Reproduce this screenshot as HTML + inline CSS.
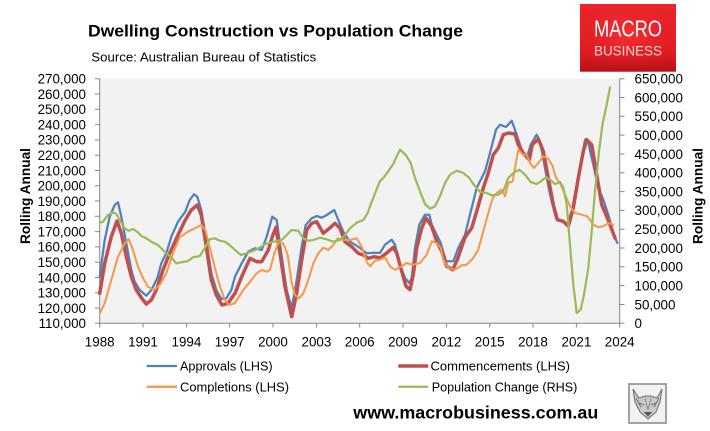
<!DOCTYPE html>
<html>
<head>
<meta charset="utf-8">
<style>
  html,body{margin:0;padding:0;background:#fff;}
  svg{display:block;}
  text{font-family:"Liberation Sans","DejaVu Sans",sans-serif;}
</style>
</head>
<body>
<svg width="710" height="431" viewBox="0 0 710 431" xmlns="http://www.w3.org/2000/svg">
  <rect x="0" y="0" width="710" height="431" fill="#ffffff"/>

  <!-- Title -->
  <text x="88" y="36.7" font-size="17" font-weight="bold" fill="#000" textLength="375" lengthAdjust="spacingAndGlyphs">Dwelling Construction vs Population Change</text>
  <text x="91.3" y="61.7" font-size="12.5" fill="#000" textLength="225" lengthAdjust="spacingAndGlyphs">Source: Australian Bureau of Statistics</text>

  <!-- Logo -->
  <defs>
    <linearGradient id="lg" x1="0" y1="0" x2="0" y2="1">
      <stop offset="0" stop-color="#f0262c"/>
      <stop offset="0.7" stop-color="#e41d24"/>
      <stop offset="1" stop-color="#b80f16"/>
    </linearGradient>
    <radialGradient id="rg" cx="0.5" cy="0.45" r="0.7">
      <stop offset="0" stop-color="#ff3a3e" stop-opacity="0.6"/>
      <stop offset="1" stop-color="#c01018" stop-opacity="0"/>
    </radialGradient>
  </defs>
  <rect x="580" y="4" width="96" height="67.7" fill="url(#lg)"/>
  <rect x="580" y="4" width="96" height="67.7" fill="url(#rg)"/>
  <text x="594" y="36.7" font-size="23" fill="#ffffff" textLength="68" lengthAdjust="spacingAndGlyphs">MACRO</text>
  <text x="594" y="55.7" font-size="14" fill="#f9d4d4" textLength="68" lengthAdjust="spacingAndGlyphs">BUSINESS</text>

  <!-- Plot area -->
  <rect x="100" y="78.7" width="520" height="244.6" fill="#f2f2f2"/>

  <!-- Axes -->
  <g stroke="#868686" stroke-width="1" fill="none">
    <line x1="99.7" y1="78.7" x2="99.7" y2="323.3"/>
    <line x1="619.7" y1="78.7" x2="619.7" y2="323.3"/>
    <line x1="99.7" y1="323.3" x2="619.7" y2="323.3"/>
    <!-- left ticks -->
    <path d="M95,78.7H99.7 M95,94H99.7 M95,109.3H99.7 M95,124.6H99.7 M95,139.9H99.7 M95,155.2H99.7 M95,170.5H99.7 M95,185.8H99.7 M95,201H99.7 M95,216.3H99.7 M95,231.6H99.7 M95,246.9H99.7 M95,262.2H99.7 M95,277.5H99.7 M95,292.8H99.7 M95,308.1H99.7 M95,323.3H99.7"/>
    <!-- right ticks -->
    <path d="M619.7,78.7H624.5 M619.7,97.5H624.5 M619.7,116.3H624.5 M619.7,135.1H624.5 M619.7,154H624.5 M619.7,172.8H624.5 M619.7,191.6H624.5 M619.7,210.4H624.5 M619.7,229.2H624.5 M619.7,248H624.5 M619.7,266.8H624.5 M619.7,285.6H624.5 M619.7,304.5H624.5 M619.7,323.3H624.5"/>
    <!-- x ticks -->
    <path d="M99.7,323.3V327.5 M143,323.3V327.5 M186.4,323.3V327.5 M229.7,323.3V327.5 M273,323.3V327.5 M316.4,323.3V327.5 M359.7,323.3V327.5 M403,323.3V327.5 M446.4,323.3V327.5 M489.7,323.3V327.5 M533,323.3V327.5 M576.4,323.3V327.5 M619.7,323.3V327.5"/>
  </g>

  <!-- Left labels -->
  <g font-size="13.4" fill="#000" text-anchor="end">
    <text x="86" y="83.5">270,000</text>
    <text x="86" y="98.8">260,000</text>
    <text x="86" y="114.1">250,000</text>
    <text x="86" y="129.4">240,000</text>
    <text x="86" y="144.7">230,000</text>
    <text x="86" y="160">220,000</text>
    <text x="86" y="175.3">210,000</text>
    <text x="86" y="190.6">200,000</text>
    <text x="86" y="205.8">190,000</text>
    <text x="86" y="221.1">180,000</text>
    <text x="86" y="236.4">170,000</text>
    <text x="86" y="251.7">160,000</text>
    <text x="86" y="267">150,000</text>
    <text x="86" y="282.3">140,000</text>
    <text x="86" y="297.6">130,000</text>
    <text x="86" y="312.9">120,000</text>
    <text x="86" y="328.1">110,000</text>
  </g>

  <!-- Right labels -->
  <g font-size="13.4" fill="#000">
    <text x="634.5" y="83.5">650,000</text>
    <text x="634.5" y="102.3">600,000</text>
    <text x="634.5" y="121.1">550,000</text>
    <text x="634.5" y="139.9">500,000</text>
    <text x="634.5" y="158.8">450,000</text>
    <text x="634.5" y="177.6">400,000</text>
    <text x="634.5" y="196.4">350,000</text>
    <text x="634.5" y="215.2">300,000</text>
    <text x="634.5" y="234">250,000</text>
    <text x="634.5" y="252.8">200,000</text>
    <text x="634.5" y="271.6">150,000</text>
    <text x="634.5" y="290.4">100,000</text>
    <text x="634.5" y="309.3">50,000</text>
    <text x="634.5" y="328.1">0</text>
  </g>

  <!-- X labels -->
  <g font-size="13.4" fill="#000" text-anchor="middle">
    <text x="99.7" y="346.5">1988</text>
    <text x="143" y="346.5">1991</text>
    <text x="186.4" y="346.5">1994</text>
    <text x="229.7" y="346.5">1997</text>
    <text x="273" y="346.5">2000</text>
    <text x="316.4" y="346.5">2003</text>
    <text x="359.7" y="346.5">2006</text>
    <text x="403" y="346.5">2009</text>
    <text x="446.4" y="346.5">2012</text>
    <text x="489.7" y="346.5">2015</text>
    <text x="533" y="346.5">2018</text>
    <text x="576.4" y="346.5">2021</text>
    <text x="619.7" y="346.5">2024</text>
  </g>

  <!-- Axis titles -->
  <text transform="translate(29.8,244) rotate(-90)" font-size="13.5" font-weight="bold" fill="#000" textLength="96" lengthAdjust="spacingAndGlyphs">Rolling Annual</text>
  <text transform="translate(702.5,244) rotate(-90)" font-size="13.5" font-weight="bold" fill="#000" textLength="96" lengthAdjust="spacingAndGlyphs">Rolling Annual</text>

  <!-- Series -->
  <g fill="none" stroke-linejoin="round" stroke-linecap="round">
    <polyline stroke="#4f81bd" stroke-width="2.25" points="99.7,276.7 104.7,240 109.7,216.7 114.7,205 118,202.3 121.3,216.7 126.3,243.3 131.3,270 134.7,281.7 139.7,290 146.3,295.7 151.3,290 157.3,278.3 161.3,263.3 166.3,253.3 171.3,236.7 178,221.7 185.3,211.7 189.7,200 194,194.3 197.3,196.7 201.3,210 206.3,240 211.3,273.3 216.3,290 221.3,299 226.3,298.3 231.3,290 235,276.7 241.7,263.3 248.3,251.7 255,248.3 261.7,250 266.7,236.7 272.3,216.7 276.7,220 281.7,256.7 286.7,290 291.7,308.3 296.7,280 301.7,246.7 305.7,225 311.7,218.3 316.7,216 321.7,217.7 326.7,215 334.3,210 338.3,220 343.3,231.7 350,241.7 358.3,246.7 366.7,253.3 374.3,252.7 380,253 385,244.7 391.7,239.7 395,244.7 400,264.7 405,278 409.3,283 411.7,278 415,248 419.3,224.7 425,214.7 429.3,214.7 431.7,224.7 436.7,234.7 440.7,243 446,261.3 453.3,261.3 458.3,248 465,234.7 470,214.7 476.7,188 485,171.3 490,153 496,129.7 500,124.7 506,127 511.7,120.7 516.7,134.7 521.7,149.7 526.7,158 530.7,144.7 536.7,134.7 540,141.3 545,168 550,194.7 556,218 561.7,221.3 566.7,224.7 571.7,211.3 576.7,184.7 581.7,158 585,139.7 588.3,143 593.3,164.7 598.3,188 603.3,199.7 608.3,214.7 613.3,233 617.3,243"/>
    <polyline stroke="#c0504d" stroke-width="3.5" points="99.7,293.3 104.7,263.3 111.3,236.7 117,221 121.3,233.3 126.3,256.7 131.3,276.7 136.3,290 141.3,297.7 146.3,304 151.3,300 156.3,290 163,270 169.7,253.3 178,235 185.3,220 191.3,210 197.3,205 201.3,215 206.3,246.7 211.3,280 216.3,295 222,305 228,303.3 235,293.3 241.7,276.7 250,258.3 256.7,261.7 261.7,261.7 268.3,250 272.3,236.7 276,227.3 280,253.3 285,286.7 291.7,316.7 296.7,293.3 301.7,260 306.7,230 311.7,223.3 316.7,221.7 323.3,233.3 328.3,229.3 335,223.3 340,228.3 345,241.7 351.7,246.7 358.3,253.3 363.3,255 368.3,258.3 374.3,256.7 380,258 386.7,253 393.3,247.3 396.7,253 401.7,271.3 406,286.3 410,289.7 413.3,274.7 416.7,248 421.7,228 426,218 431.7,226.3 436.7,241.3 441.7,251.3 446.7,266.3 452.7,269.7 457.3,259.7 465,237.3 471.7,228 476.7,211.3 483.3,188 488.3,173 493.3,154.7 498.3,148 503.3,134.7 508.3,133 515,134 518.3,144.7 523.3,153 529.3,159.7 532.3,144.7 538.3,139 543.3,151.3 548.3,178 553.3,204.7 557.3,219.7 563.3,221.3 568.3,226.3 573.3,208 578.3,178 583.3,151.3 586.7,139.7 591.7,144.7 596.7,174.7 601.7,204.7 606,214.7 610,224.7 615,238"/>
    <polyline stroke="#f79646" stroke-width="2" points="99.7,313.3 104.7,303.3 111.3,280 118,256.7 124.7,243.3 128.7,239 133,250 138,266.7 143,278.3 148,286.7 154,290 159.7,285 166.3,273.3 173,253.3 179.7,237.3 188,231.7 194.7,228.3 201.3,225 205.3,230 211.3,253.3 218,280 224,298.3 228.7,305 234.7,303.3 243.3,290 250,281.7 256.7,273.3 261.7,270 266.7,271.7 270,270 274.3,253.3 278.3,243.3 283.3,243.3 287.7,255 291.7,283.3 295,295 299,298.3 303.3,293.3 308.3,280 313.3,263.3 318.3,253.3 323.3,247.7 328.3,250 333.3,245 337.7,238.3 343.3,240 350,240 356.7,238.3 361.7,246.7 366.7,261.7 370,266.3 375,260.7 380,259.7 385,257.3 390,266.3 395,269.7 401.7,266.3 406.7,263 413.3,264.7 420,263 426.7,254.7 431.7,241.3 436.7,243 440.7,248 443.3,259.7 448.3,268 455,269.7 461.7,265.3 466.7,264.7 473.3,258 478.3,249.7 483.3,231.3 488.3,213 492.7,198 496.7,193 501.7,189.7 505,196.3 508.3,183 512.7,181.3 515,168 518.3,149.7 523.3,154.7 526.7,154.7 530,163 534,168 538.3,163 543.3,156.3 548.3,158.7 552.7,166.3 556,178 560,183 565,194.7 570,206.3 575,213 581.7,214.7 587.3,216.3 593.3,224.7 598.3,227.3 603.3,226.3 608.3,223 613.3,224.7"/>
    <polyline stroke="#9bbb59" stroke-width="2.25" points="99.7,222.7 103,221.7 108,215 113,212.3 116.3,214 119.7,220 124.7,228.3 128.7,230.7 133,229 137.3,231.7 141.3,236 146.3,238.3 151.3,241.7 158,245 164.7,251.7 170.7,256.7 176.3,263.3 183,262 188,261 193,257.3 199.7,256 204.7,248.3 209.7,239.3 214.7,238.3 219.7,240.7 224.7,241.7 229.7,245 235,250 241,255 248.3,252.7 256.7,249.3 265,244.3 273.3,241.7 281.7,240 286.7,235 291.7,230 298.3,230.7 303.3,238.3 308.3,240.7 313.3,240 320,237.7 326.7,239.3 333.3,241.7 340,240 345,235 350,228.3 356.7,222.7 363.3,220 367.7,213 372,201 376.7,189 380,181 383.3,178 388.3,171.3 393.3,164 396.7,156.3 400,149.7 406,155.3 410.7,163 415,178 420,191.3 425,204 430,208.7 435,206.3 440,196.3 445,183 450,174.7 456.7,170.7 463.3,173 469.3,178 473.3,184 480,192 486.7,193 491.7,195.3 498.3,194.7 503.3,191.3 508.3,178 513.3,173 519.3,169.7 525,174.7 530.7,182 536.7,184 541.7,180.7 546,177.3 550,179.7 555,184 560,182 563.3,187.3 566.7,204.7 570,244.7 573.3,284.7 576.7,313 580.7,309.7 584,294.7 588.3,268 591.7,231.3 595,191.3 599,151.3 602.7,123 606.7,104.7 610,87.3"/>
  </g>

  <!-- Legend -->
  <g stroke-width="2.25">
    <line x1="146.7" y1="366" x2="177" y2="366" stroke="#4f81bd"/>
    <line x1="398.3" y1="366" x2="428.3" y2="366" stroke="#c0504d" stroke-width="3.5"/>
    <line x1="146.7" y1="386.7" x2="177" y2="386.7" stroke="#f79646"/>
    <line x1="398.3" y1="386.7" x2="428.3" y2="386.7" stroke="#9bbb59"/>
  </g>
  <g font-size="13" fill="#000">
    <text x="180" y="370.7" textLength="92.6" lengthAdjust="spacingAndGlyphs">Approvals (LHS)</text>
    <text x="430.5" y="370.7" textLength="139.5" lengthAdjust="spacingAndGlyphs">Commencements (LHS)</text>
    <text x="180" y="391.7" textLength="109" lengthAdjust="spacingAndGlyphs">Completions (LHS)</text>
    <text x="431.7" y="391.7" textLength="145.7" lengthAdjust="spacingAndGlyphs">Population Change (RHS)</text>
  </g>

  <!-- Website -->
  <text x="353.3" y="418.3" font-size="17.5" font-weight="bold" fill="#000" textLength="245" lengthAdjust="spacingAndGlyphs">www.macrobusiness.com.au</text>

  <!-- Fox image -->
  <rect x="629" y="384" width="37" height="39" fill="#f2f2f2" stroke="#a3a3a3" stroke-width="2"/>
  <g fill="none" stroke="#6e6e6e" stroke-width="1">
    <path d="M633,389 L639,398 L645,396 L651,396 L657,398 L662,389 L660,402 L656,412 L648,419 L640,412 L635,402 Z" fill="#c9c9c9"/>
    <path d="M639,403 L644,405 M651,405 L656,403"/>
    <path d="M644,412 L648,416 L652,412" fill="#555"/>
    <path d="M636,398 L641,407 M659,398 L654,407"/>
    <path d="M645,398 L648,410 L651,398" stroke="#8a8a8a"/>
  </g>
</svg>
</body>
</html>
